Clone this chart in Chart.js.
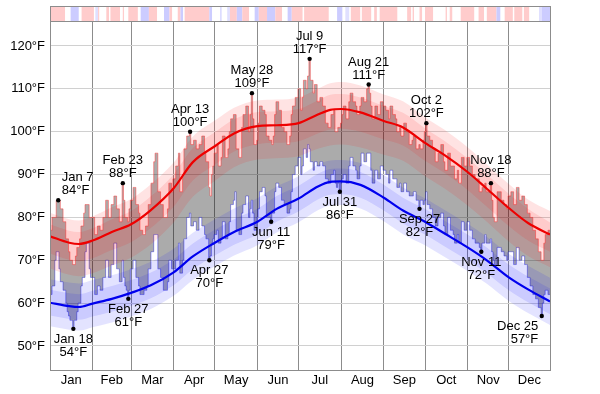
<!DOCTYPE html>
<html><head><meta charset="utf-8">
<script src="https://cdn.jsdelivr.net/npm/chart.js@4.4.0/dist/chart.umd.min.js"></script>
<style>html,body{margin:0;padding:0;background:#fff;overflow:hidden}</style>
</head><body>
<canvas id="c" width="600" height="394" style="width:600px;height:394px;display:block"></canvas>
<script>
// ---- categories / ticks ----
const months = ['Jan','Feb','Mar','Apr','May','Jun','Jul','Aug','Sep','Oct','Nov','Dec'];
const monthStarts = [0,31,59,90,120,151,181,212,243,273,304,334,365];
const yTicks = [50,60,70,80,90,100,110,120];

// ---- observed daily highs / lows (°F) ----
const hiJan=[77,77,80,80,80,84,84,84,82,82,79,79,75,75,72,70,70,69,69,71,73,73,75,78,78,81,83,83,83,80,80];
const loJan=[62,62,64,64,70,72,72,68,65,65,63,63,60,58,57,56,56,54,56,56,58,60,60,64,66,66,72,74,74,68,66];
const hiFeb=[80,80,76,76,78,78,77,77,80,80,84,84,80,80,83,83,85,85,82,82,79,79,88,84,80,80,79,82];
const loFeb=[66,66,62,62,64,64,63,63,66,66,70,70,66,66,69,69,74,74,68,68,65,65,70,66,64,63,61,63];
const hiMar=[84,84,87,87,83,83,81,77,77,76,76,78,78,83,83,88,88,93,95,95,86,86,83,83,80,80,80,82,88,88,86];
const loMar=[68,68,70,70,66,66,64,62,62,62,63,63,64,68,68,72,72,76,76,76,68,68,66,66,63,63,63,65,70,70,68];
const hiApr=[89,89,92,92,95,86,86,90,96,96,99,99,100,97,97,98,98,96,96,97,97,99,99,95,93,93,87,85,90,92];
const loApr=[68,68,70,70,74,67,67,70,75,75,80,80,81,78,78,79,79,77,77,80,80,78,78,76,75,75,70,71,74,75];
const hiMay=[95,95,97,92,92,94,99,99,94,94,96,100,103,103,104,104,96,96,94,94,101,104,104,106,106,100,104,109,103,97,97];
const loMay=[76,76,77,74,74,75,79,79,75,75,76,79,83,83,84,86,77,77,76,76,81,83,83,85,85,80,82,84,81,77,77];
const hiJun=[98,102,106,106,105,105,104,99,99,98,98,97,99,104,107,107,105,105,101,101,100,100,97,97,99,104,106,106,108,108];
const loJun=[80,82,86,86,87,87,85,80,80,80,79,81,81,86,88,88,87,87,84,84,83,83,81,81,82,86,90,90,92,92];
const hiJul=[110,110,105,108,112,112,110,113,117,112,112,109,111,111,107,107,108,108,106,106,102,102,101,101,104,104,105,100,100,101,101];
const loJul=[94,94,90,92,96,96,94,97,96,93,93,91,93,93,92,92,93,93,92,92,89,89,88,88,90,90,91,88,87,88,86];
const hiAug=[102,104,106,106,103,103,107,109,109,107,107,106,104,104,106,108,108,107,107,110,111,109,106,103,103,106,106,104,104,107,107];
const loAug=[88,89,90,90,88,88,92,94,94,92,92,91,89,89,92,95,95,93,93,95,95,95,91,88,88,91,91,89,89,92,92];
const hiSep=[106,106,105,105,103,106,106,104,104,103,100,100,101,99,99,102,102,100,100,97,97,98,99,99,96,96,97,96,96,98];
const loSep=[91,91,90,90,88,91,91,89,89,89,87,87,88,86,86,88,88,86,86,85,85,85,86,86,84,84,82,84,84,83];
const hiOct=[100,102,99,99,98,98,96,96,93,93,95,95,97,97,93,91,91,95,95,92,92,92,89,89,91,88,88,94,94,92,92];
const loOct=[84,86,83,83,82,82,80,80,78,78,80,80,81,81,78,76,76,80,80,77,77,76,74,74,76,74,74,79,79,77,77];
const hiNov=[94,94,92,92,90,90,89,89,89,86,86,87,87,88,86,86,86,88,84,80,79,79,86,86,86,84,84,83,83,82];
const loNov=[79,79,77,77,75,75,74,74,74,73,72,74,74,76,74,74,74,75,72,70,69,69,73,73,73,72,72,71,71,70];
const hiDec=[85,85,86,86,83,83,87,87,84,84,85,85,83,83,81,81,80,80,77,77,75,75,72,72,70,70,74,76,76,77,77];
const loDec=[72,72,72,72,69,69,73,73,70,70,71,71,69,69,66,66,64,64,62,62,61,61,59,59,57,60,62,63,63,62,62];

// ---- normals (knots at day offsets) ----
const normDays=[0,14,21,31,45,59,73,90,104,120,134,151,165,181,195,204,212,226,243,257,273,287,304,318,334,348,364];
const hiMean=[75.6,74.1,73.8,74.6,76.6,78.4,81.6,86.8,92.9,96.6,99.6,101.3,101.5,102.0,104.0,105.1,105.3,104.5,102.5,101.0,97.4,94.6,90.6,86.7,82.2,78.7,76.0];
const hiP90=[81.1,79.6,79.3,80.3,82.4,84.3,87.6,92.8,98.9,102.6,105.6,107.3,107.5,108.0,110.0,111.3,111.6,110.8,108.7,107.1,103.4,100.5,96.4,92.4,87.8,84.2,81.5];
const hiP75=[78.4,76.9,76.6,77.5,79.6,81.5,84.8,90.1,96.2,99.9,102.9,104.6,104.8,105.3,107.3,108.6,108.8,108.0,106.0,104.4,100.8,97.9,93.8,90.0,85.5,82.0,78.8];
const hiP25=[71.6,70.1,69.8,70.5,72.4,74.2,77.4,82.5,88.6,92.3,95.4,97.1,97.4,97.8,99.6,100.5,100.7,100.0,98.2,96.8,93.2,90.4,86.4,82.5,78.0,74.6,72.0];
const hiP10=[68.1,66.6,66.3,67.0,68.8,70.6,73.6,78.8,84.8,88.5,91.7,93.5,93.8,94.3,96.0,96.8,97.0,96.3,94.6,93.2,89.6,86.8,82.8,79.0,74.4,71.0,68.4];
const loMean=[60.1,59.3,59.1,59.9,61.0,62.4,64.1,67.2,70.9,74.1,76.6,79.0,82.0,84.4,87.2,88.3,88.4,87.6,84.6,81.6,79.0,76.3,73.0,70.0,66.0,63.2,60.4];
const loP90=[65.6,64.8,64.6,65.4,66.5,67.9,69.6,72.7,76.4,79.6,82.1,84.5,87.2,89.6,92.3,93.3,93.4,92.7,89.9,87.0,84.5,81.8,78.5,75.5,71.5,68.7,65.9];
const loP75=[63.1,62.3,62.1,62.9,64.0,65.4,67.1,70.2,73.9,77.1,79.6,82.0,85.0,87.4,90.2,91.3,91.4,90.6,87.6,84.6,82.0,79.3,76.0,73.0,69.0,66.2,63.4];
const loP25=[57.1,56.3,56.1,56.9,58.0,59.4,61.1,64.2,67.9,71.1,73.6,76.0,79.0,81.4,84.2,85.3,85.4,84.6,81.6,78.6,76.0,73.3,70.0,67.0,63.0,60.2,57.4];
const loP10=[54.6,53.8,53.6,54.4,55.5,56.9,58.6,61.7,65.4,68.6,71.1,73.5,76.5,78.9,81.7,82.8,82.9,82.1,79.1,76.1,73.5,70.8,67.5,64.5,60.5,57.7,54.9];

// ---- annotated extremes ----
const annotDays=[7,18,54,58,103,117,148,162,190,212,233,270,275,315,322,359];
const annotValues=[84,54,88,61,100,70,109,79,117,86,111,82,102,72,88,57];
const annotKinds=['high','low','high','low','high','low','high','low','high','low','high','low','high','low','high','low'];

// ---- top strip (run lengths in days, anomaly level) ----
const stripLengths=[11,4,6,2,9,1,2,1,5,2,1,7,2,1,3,7,2,6,6,5,4,2,4,2,2,1,18,2,6,1,4,2,5,4,5,4,3,6,6,5,4,3,6,
 2,1,18,6,4,2,3,1,7,1,7,2,2,2,13,7,3,1,1,4,2,2,6,9,1,2,2,6,10,3,4,2,7,3,3,6,1,6,1,4,7,2,6];
const stripLevels=[2,0,-2,0,2,0,-1,2,0,2,0,2,0,2,0,2,0,-2,2,0,-2,2,0,2,-2,0,2,-2,0,-2,0,-1,2,-2,2,0,-2,2,-2,2,0,-2,2,
 2,0,2,0,-2,0,-1,0,2,0,2,0,2,0,2,0,2,0,2,0,2,0,2,0,2,0,2,0,2,0,2,0,2,-2,0,2,0,2,0,2,0,-1,-2];
const stripColors={'2':'#ffcccc','1':'#ffe5e5','0':'#ffffff','-1':'#e0e0ff','-2':'#ccccff'};

// ---- build data ----
const hiAll=[].concat(hiJan,hiFeb,hiMar,hiApr,hiMay,hiJun,hiJul,hiAug,hiSep,hiOct,hiNov,hiDec);
const loAll=[].concat(loJan,loFeb,loMar,loApr,loMay,loJun,loJul,loAug,loSep,loOct,loNov,loDec);
const obs=(arr)=>arr.map((v,i)=>({x:i,y:v}));
const knots=(arr)=>arr.map((v,i)=>({x:normDays[i],y:v}));
const FONT='"Liberation Sans", Arial, sans-serif';

function band(arr,fillTarget,color){
  return {data:knots(arr),borderWidth:0,borderColor:'rgba(0,0,0,0)',backgroundColor:color,
    fill:fillTarget===null?false:{target:fillTarget},pointRadius:0,cubicInterpolationMode:'monotone',order:5};
}

const datasets=[
  {data:obs(hiAll),stepped:'middle',borderColor:'rgba(255,40,40,0.45)',borderWidth:1,
   backgroundColor:'rgba(0,0,0,0.33)',fill:{target:1},pointRadius:0,order:10},
  {data:obs(loAll),stepped:'middle',borderColor:'rgba(40,40,255,0.45)',borderWidth:1,
   fill:false,pointRadius:0,order:10},
  band(hiP90,5,'rgba(255,0,0,0.11)'),
  band(hiP75,4,'rgba(255,0,0,0.11)'),
  band(hiP25,null,'rgba(0,0,0,0)'),
  band(hiP10,null,'rgba(0,0,0,0)'),
  {data:knots(hiMean),borderColor:'#ee0000',borderWidth:2.2,fill:false,pointRadius:0,cubicInterpolationMode:'monotone',order:1},
  band(loP90,10,'rgba(0,0,255,0.11)'),
  band(loP75,9,'rgba(0,0,255,0.11)'),
  band(loP25,null,'rgba(0,0,0,0)'),
  band(loP10,null,'rgba(0,0,0,0)'),
  {data:knots(loMean),borderColor:'#0000ee',borderWidth:2.2,fill:false,pointRadius:0,cubicInterpolationMode:'monotone',order:1}
];

function dateLabel(d){
  for(let m=0;m<12;m++){ if(d>monthStarts[m] && d<=monthStarts[m+1]) return months[m]+' '+(d-monthStarts[m]); }
  return '';
}

const decor={
  id:'decor',
  afterDatasetsDraw(chart){
    const {ctx,chartArea:a,scales:{x,y}}=chart;
    ctx.save();
    ctx.font='13px '+FONT; ctx.fillStyle='#000'; ctx.textBaseline='alphabetic';
    annotDays.forEach((d,i)=>{
      const px=x.getPixelForValue(d-1), py=y.getPixelForValue(annotValues[i]);
      ctx.beginPath(); ctx.arc(px,py,2.2,0,Math.PI*2); ctx.fill();
      const t1=dateLabel(d), t2=annotValues[i]+'°F';
      const w=Math.max(ctx.measureText(t1).width,ctx.measureText(t2).width);
      let tx=px, al='center';
      if(px-w/2<a.left+2){al='left';tx=px+3.5;}
      else if(px+w/2>a.right-2){al='right';tx=px-3.5;}
      ctx.textAlign=al;
      if(annotKinds[i]==='high'){ ctx.fillText(t1,tx,py-19); ctx.fillText(t2,tx,py-6); }
      else { ctx.fillText(t1,tx,py+14); ctx.fillText(t2,tx,py+27); }
    });
    ctx.restore();
  },
  afterDraw(chart){
    const {ctx,chartArea:a,scales:{x}}=chart;
    ctx.save();
    let s=0;
    stripLengths.forEach((len,i)=>{
      const x0=x.getPixelForValue(s), x1=x.getPixelForValue(Math.min(s+len,364));
      ctx.fillStyle=stripColors[String(stripLevels[i])];
      ctx.fillRect(x0,7,x1-x0,14);
      s+=len;
    });
    ctx.strokeStyle='#8c8c8c'; ctx.lineWidth=1;
    ctx.strokeRect(a.left+0.5,6.5,a.right-a.left,a.top-6);
    ctx.strokeRect(a.left+0.5,a.top+0.5,a.right-a.left,a.bottom-a.top);
    ctx.font='13px '+FONT; ctx.fillStyle='#000'; ctx.textAlign='center'; ctx.textBaseline='alphabetic';
    months.forEach((m,i)=>{
      const c=x.getPixelForValue((monthStarts[i]+Math.min(monthStarts[i+1],364))/2);
      ctx.fillText(m,c,a.bottom+14);
    });
    ctx.restore();
  }
};

new Chart(document.getElementById('c'),{
  type:'line',
  data:{datasets},
  options:{
    responsive:false,animation:false,devicePixelRatio:1,
    layout:{padding:{top:21,right:50,left:0,bottom:0}},
    plugins:{legend:{display:false},tooltip:{enabled:false},filler:{propagate:false}},
    scales:{
      x:{type:'linear',min:0,max:364,
        afterBuildTicks:s=>{s.ticks=monthStarts.slice(1,12).map(v=>({value:v}));},
        ticks:{display:false},grid:{color:'#8c8c8c',drawTicks:false},border:{display:false},
        afterFit:s=>{s.height=24;}},
      y:{type:'linear',min:44.4,max:125.83,
        afterBuildTicks:s=>{s.ticks=yTicks.map(v=>({value:v}));},
        ticks:{callback:v=>v+'°F',font:{family:FONT,size:13},color:'#000',padding:5},
        grid:{color:'#d0d0d0',drawTicks:false},border:{display:false},
        afterFit:s=>{s.width=50;}}
    }
  },
  plugins:[decor]
});
</script>
</body></html>
